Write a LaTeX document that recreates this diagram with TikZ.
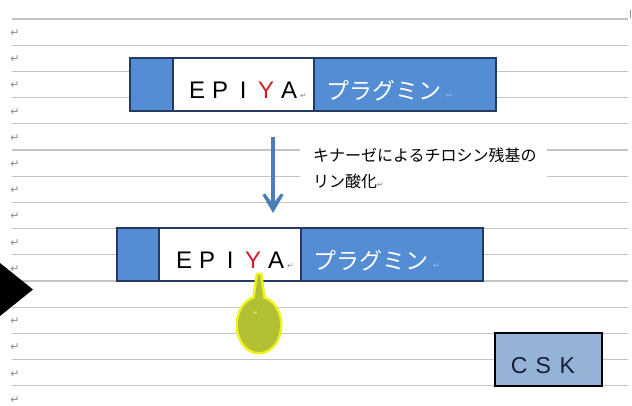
\documentclass[tikz,border=0pt]{standalone}
\usepackage{fontspec}
\setmainfont{Liberation Sans}
\newfontfamily\jpfont{Noto Sans CJK JP}
\newfontfamily\symfont{DejaVu Sans}
\usetikzlibrary{arrows.meta}
\definecolor{boxblue}{RGB}{84,141,212}
\definecolor{boxborder}{RGB}{38,58,96}
\definecolor{gridgray}{RGB}{196,196,196}
\definecolor{markgray}{RGB}{140,140,140}
\definecolor{epired}{RGB}{210,30,40}
\definecolor{arrowblue}{RGB}{74,126,187}
\definecolor{cskblue}{RGB}{149,179,215}
\definecolor{csktext}{RGB}{22,30,56}
\definecolor{budgreen}{RGB}{180,192,52}
\definecolor{budglow}{RGB}{238,242,30}
\newcommand\ltr[1]{\makebox[23pt][c]{#1}}
\newcommand\cltr[1]{\makebox[24pt][c]{#1}}
\begin{document}
\begin{tikzpicture}[x=1pt,y=-1pt,
  gridline/.style={draw=gridgray,line width=1.2pt},
  retmark/.style={font=\symfont\fontsize{11}{11}\selectfont,text=markgray,inner sep=0},
  seg/.style={draw=boxborder,line width=1.1pt,inner sep=0,outer sep=0,anchor=north west,minimum height=53pt},
  epiya/.style={font=\fontsize{24}{26}\selectfont,inner sep=0,anchor=base west},
  kata/.style={font=\jpfont\fontsize{23}{26}\selectfont,text=white,inner sep=0,anchor=base west},
  notetext/.style={font=\jpfont\fontsize{16}{20}\selectfont,inner sep=0,anchor=base west},
  shaft/.style={draw=arrowblue,line width=3.6pt},
  arrowhead/.style={fill=arrowblue}
]
\useasboundingbox (0,0) rectangle (632,405);
\fill[white] (0,0) rectangle (632,405);
% ruled lines
\foreach \k in {0,...,14} \draw[gridline] (12,{19+26.2*\k}) -- (628,{19+26.2*\k});
% paragraph marks in margin
\foreach \k in {0,...,9,11,12,13,14} \node[retmark] (m\k) at (15,{33+26.2*\k}) {↵};
\draw[markgray,line width=0.8pt] (630,10) -- (630,18);
% black triangle
\fill[black] (0,263) -- (33,289.5) -- (0,316) -- cycle;
% box 1
\node[seg,fill=boxblue,minimum width=43pt] (b1l) at (130,58) {};
\node[seg,fill=white,minimum width=141pt] (b1m) at (173,58) {};
\node[seg,fill=boxblue,minimum width=182pt] (b1r) at (314,58) {};
\node[epiya] (e1) at (185.5,98.5) {\ltr{E}\ltr{P}\ltr{I}\ltr{\textcolor{epired}{Y}}\ltr{A}};
\node[retmark,anchor=base west,font=\symfont\fontsize{8}{8}\selectfont] (r1) at (300,98) {↵};
\node[kata] (k1) at (326,99.5) {プラグミン};
\node[retmark,anchor=base west,text=boxblue!60!white,font=\symfont\fontsize{8}{8}\selectfont] (r1b) at (446,98) {↵};
% arrow
\coordinate (a1) at (273,137);
\coordinate (a2) at (273,213);
\draw[shaft] (a1) -- ([shift={(0,-8)}]a2);
\fill[arrowhead] (a2) -- ([shift={(-10.5,-18)}]a2) -- ([shift={(-8,-19.5)}]a2) -- ([shift={(0,-9)}]a2) -- ([shift={(8,-19.5)}]a2) -- ([shift={(10.5,-18)}]a2) -- cycle;
% note
\node[fill=white,inner sep=0,minimum width=247pt,minimum height=66pt,anchor=north west] (notebg) at (300,131) {};
\node[notetext] (n1) at (313,161) {キナーゼによるチロシン残基の};
\node[notetext] (n2) at (313,187) {リン酸化{\symfont\fontsize{8}{8}\selectfont\textcolor{markgray}{↵}}};
% box 2
\node[seg,fill=boxblue,minimum width=42pt] (b2l) at (117,228) {};
\node[seg,fill=white,minimum width=142pt] (b2m) at (159,228) {};
\node[seg,fill=boxblue,minimum width=182pt] (b2r) at (301,228) {};
\node[epiya] (e2) at (172.5,268.5) {\ltr{E}\ltr{P}\ltr{I}\ltr{\textcolor{epired}{Y}}\ltr{A}};
\node[retmark,anchor=base west,font=\symfont\fontsize{8}{8}\selectfont] (r2) at (287,268) {↵};
\node[kata] (k2) at (313,269.5) {プラグミン};
\node[retmark,anchor=base west,text=boxblue!60!white,font=\symfont\fontsize{8}{8}\selectfont] (r2b) at (433,268) {↵};
% bud (phosphate)
\draw[budglow,line width=5pt,line join=round] (258,275) -- (260,275) -- (264,302) -- (254,302) -- cycle;
\draw[budglow,line width=5pt] (259,325) ellipse [x radius=21pt,y radius=27pt];
\fill[budgreen] (259,325) ellipse [x radius=21pt,y radius=27pt];
\fill[budgreen] (258,275) -- (260,275) -- (264,304) -- (254,304) -- cycle;
\node[retmark,text=white,font=\symfont\fontsize{5}{5}\selectfont] (bm) at (256,313) {↵};
% CSK
\node[draw=black,line width=2.6pt,fill=cskblue,minimum width=107pt,minimum height=53pt,inner sep=0] (csk) at (548.5,359.5) {};
\node[inner sep=0,anchor=base west,font=\fontsize{23}{24}\selectfont,text=csktext] (csktxt) at (507,373.5) {\cltr{C}\cltr{S}\cltr{K}};
\node[retmark,anchor=base west,text=markgray!70!white,font=\symfont\fontsize{8}{8}\selectfont] (r3) at (582,372) {↵};
\end{tikzpicture}
\end{document}
